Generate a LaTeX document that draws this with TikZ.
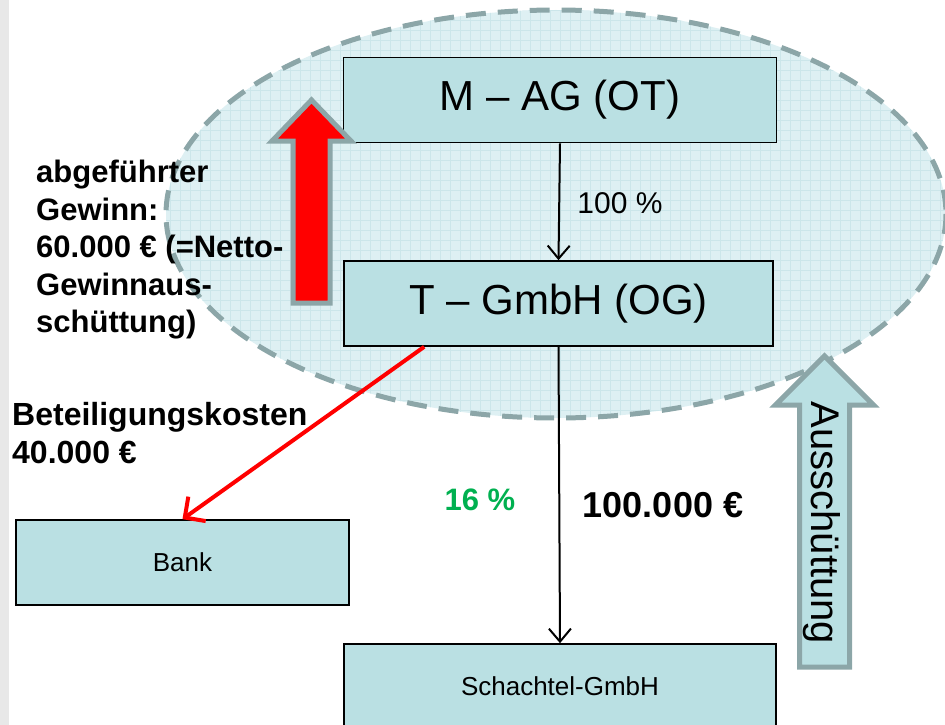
\documentclass[tikz,border=0pt]{standalone}
\usepackage{fontspec}
\setmainfont{Liberation Sans}
\usetikzlibrary{arrows.meta,calc}
\definecolor{boxfill}{RGB}{186,224,227}
\definecolor{ellfill}{RGB}{222,240,243}
\definecolor{gridc}{RGB}{204,230,234}
\definecolor{edgegray}{RGB}{140,166,168}
\definecolor{mygreen}{RGB}{0,176,80}
\definecolor{stripgray}{RGB}{232,232,232}
\newcommand{\fsz}[1]{\fontsize{#1}{#1}\selectfont}
\begin{document}
\begin{tikzpicture}[x=1pt,y=-1pt,
  entity/.style={draw=black, line width=1.6pt, fill=boxfill, inner sep=0pt, align=center},
  conn/.style={draw=black, line width=2pt, -{Straight Barb[length=13pt,width=22pt,line width=2pt]}},
  redconn/.style={draw=red, line width=4pt, -{Straight Barb[length=15pt,width=30pt,line width=4pt]}},
  blockarrow/.style={draw=edgegray, line width=5pt, line join=miter},
  plain/.style={inner sep=0pt, align=left}]
\useasboundingbox (0,0) rectangle (945,725);
\clip (0,0) rectangle (945,725);
% left strip
\fill[stripgray] (0,0) rectangle (9,725);
% ellipse group
\fill[ellfill] (556,214) ellipse [x radius=390, y radius=204];
\begin{scope}
  \clip (556,214) ellipse [x radius=390, y radius=204];
  \foreach \gx in {160,170,...,950} {\draw[gridc, line width=0.8pt] (\gx,0) -- (\gx,430);}
  \foreach \gy in {0,10,...,430} {\draw[gridc, line width=0.8pt] (160,\gy) -- (950,\gy);}
\end{scope}
\draw[edgegray, line width=5pt, dash pattern=on 20pt off 12pt] (556,214) ellipse [x radius=390, y radius=204];
% boxes
\node[entity, minimum width=433pt, minimum height=85pt] (mag) at (560,100) {\fsz{42}M – AG (OT)};
\node[entity, minimum width=429pt, minimum height=85pt] (tg) at (558.5,303.5) {\fsz{42}T – GmbH (OG)};
\node[entity, minimum width=333pt, minimum height=85pt] (bank) at (182.5,562.5) {\fsz{26}Bank};
\node[entity, minimum width=432pt, minimum height=85pt] (sch) at (560,686.5) {\fsz{26}Schachtel-GmbH};
% connectors
\draw[conn] (mag.south) -- (tg.north);
\draw[conn] (tg.south) -- (sch.north);
\coordinate (rs) at ($(tg.south west)+(81,0)$);
\draw[redconn] (rs) -- (bank.north);
% block arrows
\draw[blockarrow, fill=red] (293,303) -- (293,141) -- (272,141) -- (311.5,100) -- (351,141) -- (330,141) -- (330,303) -- cycle;
\draw[blockarrow, fill=boxfill] (799.5,667) -- (799.5,405) -- (775.5,405) -- (824.5,356) -- (873.5,405) -- (849.5,405) -- (849.5,667) -- cycle;
\node[plain, rotate=-90] (aus) at (822,523) {\fsz{40}Ausschüttung};
% labels
\node[plain] (p100) at (620,203) {\fsz{30}100 \%};
\node[plain, text=mygreen] (p16) at (480,500) {\fsz{31}\bfseries 16 \%};
\node[plain] (amt) at (663,505) {\fsz{36}\bfseries 100.000 €};
\node[plain, anchor=north west, font={\fontsize{31}{37.5}\selectfont\bfseries}] (gew) at (36,160) {abgeführter\\Gewinn:\\60.000 € (=Netto-\\Gewinnaus-\\schüttung)};
\node[plain, anchor=north west, font={\fontsize{32}{38}\selectfont\bfseries}] (bet) at (12,402) {Beteiligungskosten\\40.000 €};
\end{tikzpicture}
\end{document}
